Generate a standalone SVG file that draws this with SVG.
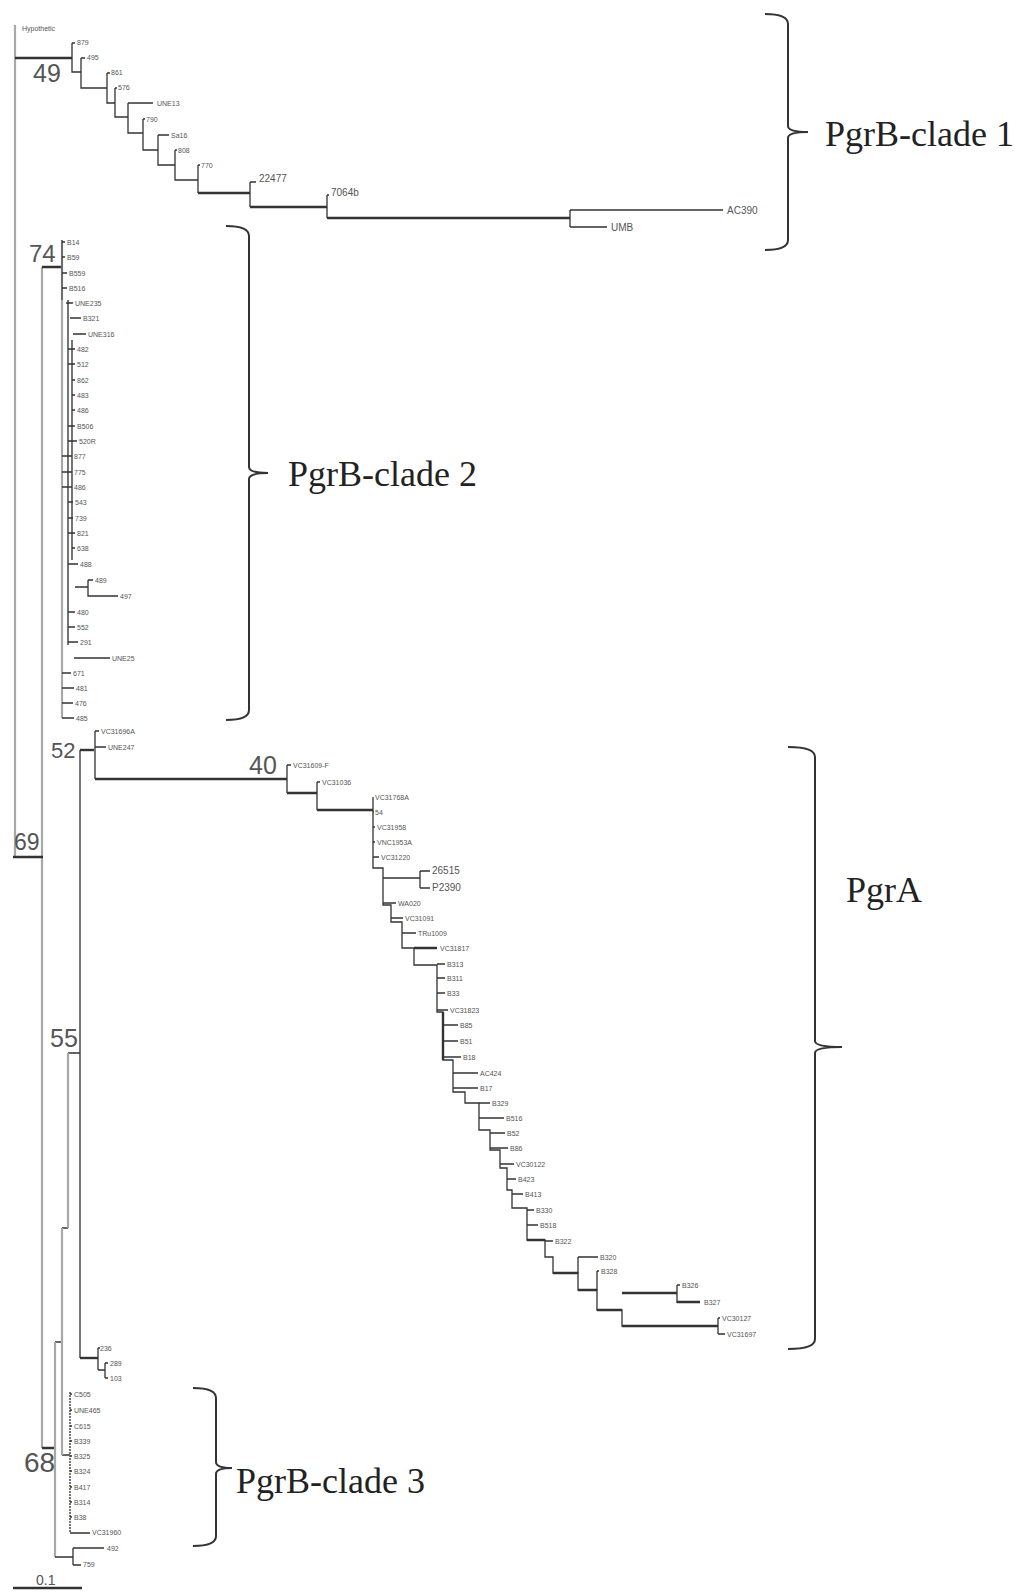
<svg xmlns="http://www.w3.org/2000/svg" width="1029" height="1595" viewBox="0 0 1029 1595">
<style>
.b{stroke:#333;stroke-width:1.3;fill:none}
.k{stroke:#333;stroke-width:2.4;fill:none}
.g{stroke:#a8a8a8;stroke-width:2.2;fill:none}
.m{stroke:#666;stroke-width:1.8;fill:none}
.bk{stroke:#333;stroke-width:2;fill:none}
.t{font-family:"Liberation Sans",Arial,sans-serif;font-size:7px;fill:#555}
.tm{font-family:"Liberation Sans",Arial,sans-serif;font-size:10px;fill:#555}
.n{font-family:"Liberation Sans",Arial,sans-serif;fill:#555}
.c{font-family:"Liberation Serif","Times New Roman",serif;font-size:36px;fill:#222}
</style>
<rect width="1029" height="1595" fill="#fff"/>
<g id="connectors">
<path class="g" d="M15 25V857M42 267V1448"/>
<path class="k" d="M13 857H43M42 267H62M42 1448H55"/>
<path class="k" d="M15 58H72"/>
<path class="b" d="M72 43V72H81M72 43H75M81 58V88H107M81 58H85M107 73V103H115M107 73H110M115 88V117H128M115 88H117M128 103V133H143M128 103H153M143 119V150H158M143 119H145M158 135V165H175M158 135H169M175 150V180H198M175 150H177M198 165V193M198 165H200M250 182V207M250 182H256M327 195V218M327 195H329M570 210V227M570 227H607"/>
<path class="k" d="M198 193H250M250 207H327M327 218H570"/>
<path class="b" d="M570 210H723"/>
<path class="g" d="M62 240V718"/>
<path class="m" d="M62 240V300M68 300V645M72 340V560"/>
<path class="b" d="M62 242H65M62 257H65M62 273H67M62 288H67M66 303H73M70 318H81M73 334H86M68 349H75M68 364H75M72 380H75M72 395H75M72 410H75M68 426H75M68 441H77M62 456H72M62 472H72M62 487H72M68 502H73M68 518H73M68 533H75M72 548H75M68 564H78M75 587H88M88 580V596H118M88 580H93M68 612H75M68 627H75M68 642H78M74 658H110M62 673H71M62 688H74M62 703H73M62 718H74"/>
<path class="m" d="M80 750V1358"/>
<path class="k" d="M80 750H94"/>
<path class="b" d="M95 731V779M95 731H99M95 747H106"/>
<path class="k" d="M95 779H287"/>
<path class="b" d="M287 765V793M287 765H291M317 782V810M317 782H320"/>
<path class="k" d="M287 793H317M317 810H373"/>
<path class="b" d="M373 797V868H383V905H391V922H402V948H414V965H437V1012H443V1060H453V1092H465V1103H479V1130H490V1150H500V1168H507V1190H512V1208H527V1240H545V1257H553V1273H578V1290H597V1310H622V1326H718"/>
<path class="k" d="M414 948H437M443 1012V1060M527 1240H545M553 1273H578M578 1290H597M597 1310H622M622 1326H718"/>
<path class="b" d="M383 878H420M420 871V888M420 871H430M420 888H430"/>
<path class="b" d="M373 812H374M373 827H375M373 842H375M373 857H379M383 903H396M391 918H403M402 933H416M437 964H445M437 978H445M437 993H445M437 1010H448M443 1025H458M443 1041H458M443 1057H461M453 1073H478M453 1088H478M479 1103H490M479 1118H504M490 1133H505M490 1148H508M500 1164H514M507 1179H516M512 1194H523M527 1210H534M527 1225H538M545 1241H553M578 1257V1273M578 1257H598M597 1271V1290M597 1271H599M677 1285V1303M677 1285H680M718 1318V1334M718 1318H720M718 1334H725"/>
<path class="k" d="M622 1293H677M677 1302H700"/>
<path class="b" d="M68 1053H80M62 1228H68M55 1342H62M62 1455H70"/>
<path class="g" d="M68 1053V1228M62 1228V1455M55 1342V1557"/>
<path class="k" d="M80 1358H98"/>
<path class="b" d="M98 1348V1370M98 1348H100M98 1370H105M105 1363V1378M105 1363H108M105 1378H108"/>
<path class="m" d="M70 1392V1533" stroke-dasharray="2 1"/>
<path class="b" d="M70 1394H72M70 1410H72M70 1426H72M70 1441H72M70 1456H72M70 1471H72M70 1487H72M70 1502H72M70 1517H72M70 1533H90M55 1557H73M73 1548V1565M73 1548H104M73 1565H81"/>
<path class="k" d="M13 1588H82"/>
</g>
<g id="hypothetic"><text class="t" x="22" y="31">Hypothetic</text></g>
<g id="clade1" class="t">
<text x="77" y="45">879</text><text x="87" y="60">495</text><text x="111" y="75">861</text><text x="118" y="90">576</text>
<text x="157" y="106">UNE13</text><text x="146" y="122">790</text><text x="171" y="138">Sa16</text><text x="178" y="153">808</text>
<text x="201" y="168">770</text>
</g>
<g id="clade1-big" class="tm">
<text x="259" y="182">22477</text><text x="331" y="196">7064b</text><text x="727" y="214">AC390</text><text x="611" y="231">UMB</text>
</g>
<g id="clade2" class="t">
<text x="67" y="245">B14</text><text x="67" y="260">B59</text><text x="69" y="276">B559</text><text x="69" y="291">B516</text>
<text x="75" y="306">UNE235</text><text x="83" y="321">B321</text><text x="88" y="337">UNE316</text><text x="77" y="352">482</text>
<text x="77" y="367">512</text><text x="77" y="383">862</text><text x="77" y="398">483</text><text x="77" y="413">486</text>
<text x="77" y="429">B506</text><text x="79" y="444">520R</text><text x="74" y="459">877</text><text x="74" y="475">775</text>
<text x="74" y="490">486</text><text x="75" y="505">543</text><text x="75" y="521">739</text><text x="77" y="536">821</text>
<text x="77" y="551">638</text><text x="80" y="567">488</text><text x="95" y="583">489</text><text x="120" y="599">497</text>
<text x="77" y="615">480</text><text x="77" y="630">552</text><text x="80" y="645">291</text><text x="112" y="661">UNE25</text>
<text x="73" y="676">671</text><text x="76" y="691">481</text><text x="75" y="706">476</text><text x="76" y="721">485</text>
</g>
<g id="pgra" class="t">
<text x="101" y="734">VC31696A</text><text x="108" y="750">UNE247</text><text x="293" y="768">VC31609-F</text><text x="322" y="785">VC31036</text>
<text x="375" y="800">VC31768A</text><text x="375" y="815">54</text><text x="377" y="830">VC31958</text><text x="377" y="845">VNC1953A</text>
<text x="381" y="860">VC31220</text><text x="398" y="906">WA020</text><text x="405" y="921">VC31091</text><text x="418" y="936">TRu1009</text>
<text x="440" y="951">VC31817</text><text x="447" y="967">B313</text><text x="447" y="981">B311</text><text x="447" y="996">B33</text>
<text x="450" y="1013">VC31823</text><text x="460" y="1028">B85</text><text x="460" y="1044">B51</text><text x="463" y="1060">B18</text>
<text x="480" y="1076">AC424</text><text x="480" y="1091">B17</text><text x="492" y="1106">B329</text><text x="506" y="1121">B516</text>
<text x="507" y="1136">B52</text><text x="510" y="1151">B86</text><text x="516" y="1167">VC30122</text><text x="518" y="1182">B423</text>
<text x="525" y="1197">B413</text><text x="536" y="1213">B330</text><text x="540" y="1228">B518</text><text x="555" y="1244">B322</text>
<text x="600" y="1260">B320</text><text x="601" y="1274">B328</text><text x="682" y="1288">B326</text><text x="704" y="1305">B327</text>
<text x="722" y="1321">VC30127</text><text x="727" y="1337">VC31697</text>
</g>
<g id="pgra-big" class="tm"><text x="432" y="874">26515</text><text x="432" y="891">P2390</text></g>
<g id="clade3" class="t">
<text x="100" y="1351">236</text><text x="110" y="1366">289</text><text x="110" y="1381">103</text>
<text x="74" y="1397">C505</text><text x="74" y="1413">UNE465</text><text x="74" y="1429">C615</text><text x="74" y="1444">B339</text>
<text x="74" y="1459">B325</text><text x="74" y="1474">B324</text><text x="74" y="1490">B417</text><text x="74" y="1505">B314</text>
<text x="74" y="1520">B38</text><text x="92" y="1535">VC31960</text><text x="107" y="1551">492</text><text x="83" y="1567">759</text>
</g>
<g id="bootstrap" class="n">
<text x="33" y="82" font-size="25">49</text>
<text x="29" y="262" font-size="24">74</text>
<text x="51" y="758" font-size="22">52</text>
<text x="249" y="774" font-size="25">40</text>
<text x="14" y="850" font-size="23">69</text>
<text x="50" y="1047" font-size="25">55</text>
<text x="24" y="1472" font-size="28">68</text>
<text x="36" y="1585" font-size="14">0.1</text>
</g>
<g id="bracket-clade1"><path class="bk" d="M765 14Q788 14 788 24V126Q788 132 808 132Q788 132 788 138V240Q788 250 765 250"/><text class="c" x="825" y="146">PgrB-clade 1</text></g>
<g id="bracket-clade2"><path class="bk" d="M226 226Q249 226 249 236V467Q249 473 268 473Q249 473 249 479V710Q249 720 226 720"/><text class="c" x="288" y="486">PgrB-clade 2</text></g>
<g id="bracket-pgra"><path class="bk" d="M788 747Q815 747 815 757V1041Q815 1047 842 1047Q815 1047 815 1053V1339Q815 1349 788 1349"/><text class="c" x="846" y="902">PgrA</text></g>
<g id="bracket-clade3"><path class="bk" d="M193 1388Q216 1388 216 1398V1462Q216 1468 232 1468Q216 1468 216 1474V1536Q216 1546 193 1546"/><text class="c" x="236" y="1493">PgrB-clade 3</text></g>
</svg>
